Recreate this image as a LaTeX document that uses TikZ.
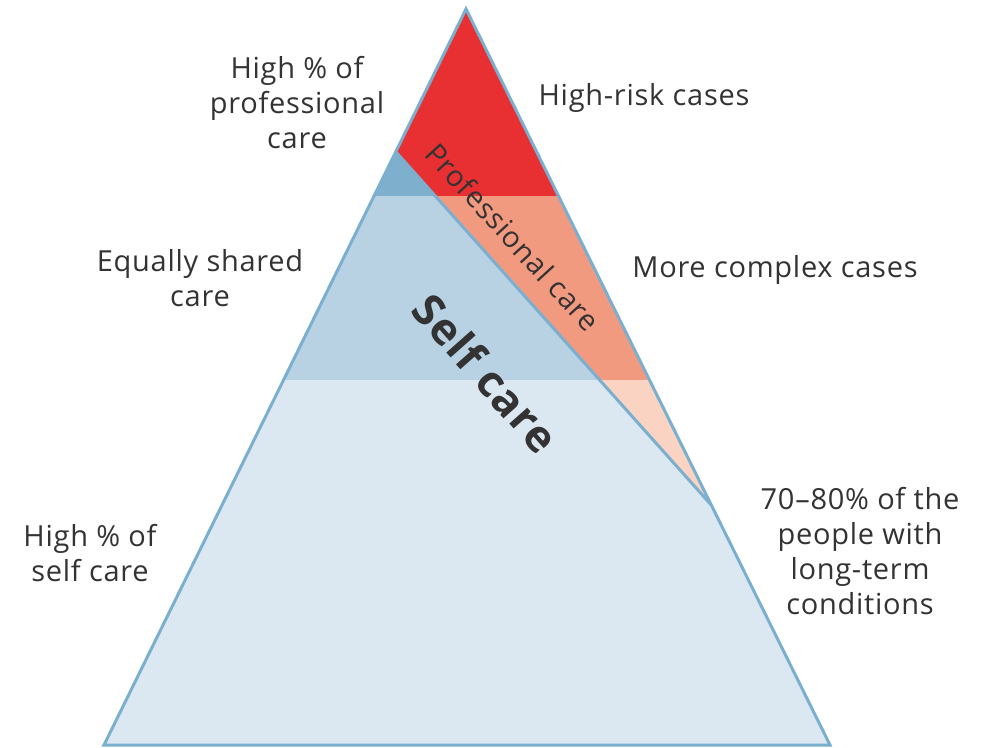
\documentclass[tikz,border=0pt]{standalone}
\usepackage{fontspec}
\setmainfont{Open Sans}[LetterSpace=2.5]
\usetikzlibrary{calc}
\definecolor{riskred}{HTML}{E83033}
\definecolor{salmon}{HTML}{F29A80}
\definecolor{peach}{HTML}{FAD3C3}
\definecolor{deepblue}{HTML}{7EB0CD}
\definecolor{midblue}{HTML}{B8D1E3}
\definecolor{paleblue}{HTML}{DCE8F1}
\definecolor{edgeblue}{HTML}{7AAFCF}
\definecolor{txtgray}{HTML}{333333}
\begin{document}
\begin{tikzpicture}[x=0.02cm, y=-0.02cm,
  lbl/.style={text=txtgray, align=center, inner sep=0pt, font=\fontsize{16.5}{19.9}\selectfont},
  rim/.style={draw=edgeblue, line width=1.7pt, line join=miter}]
\useasboundingbox (0,0) rectangle (982,747);
\coordinate (apex) at (466,9);
\coordinate (lft) at (104,745);
\coordinate (rgt) at (830,745);
\coordinate (dtop) at ($(apex)!0.194!(lft)$);
\coordinate (dbot) at ($(apex)!0.674!(rgt)$);
% self care side
\begin{scope}
\clip (dtop) -- (lft) -- (rgt) -- (dbot) -- cycle;
\fill[paleblue] (0,0) rectangle (982,747);
\fill[midblue] (0,196) rectangle (982,380);
\fill[deepblue] (0,0) rectangle (982,196);
\end{scope}
% professional care side
\begin{scope}
\clip (apex) -- (dtop) -- (dbot) -- cycle;
\fill[peach] (0,0) rectangle (982,747);
\fill[salmon] (0,196) rectangle (982,380);
\fill[riskred] (0,0) rectangle (982,196);
\end{scope}
\draw[rim] (apex) -- (lft) -- (rgt) -- cycle;
\draw[rim] (dtop) -- (dbot);
% labels
\node[lbl] (hiprof) at (297,103) {High \% of\\professional\\care};
\node[lbl] (hirisk) at (644,98) {High-risk cases};
\node[lbl] (shared) at (200,278) {Equally shared\\care};
\node[lbl] (complex) at (775,270) {More complex cases};
\node[lbl] (hiself) at (90,553) {High \% of\\self care};
\node[lbl] (people) at (860,551) {70–80\% of the\\people with\\long-term\\conditions};
\node[lbl, rotate=-47.5] (prof) at (513,237) {Professional care};
\node[lbl, rotate=-48.5, font=\fontsize{25}{30}\selectfont\bfseries] (self) at (486,373) {Self care};
\end{tikzpicture}
\end{document}
